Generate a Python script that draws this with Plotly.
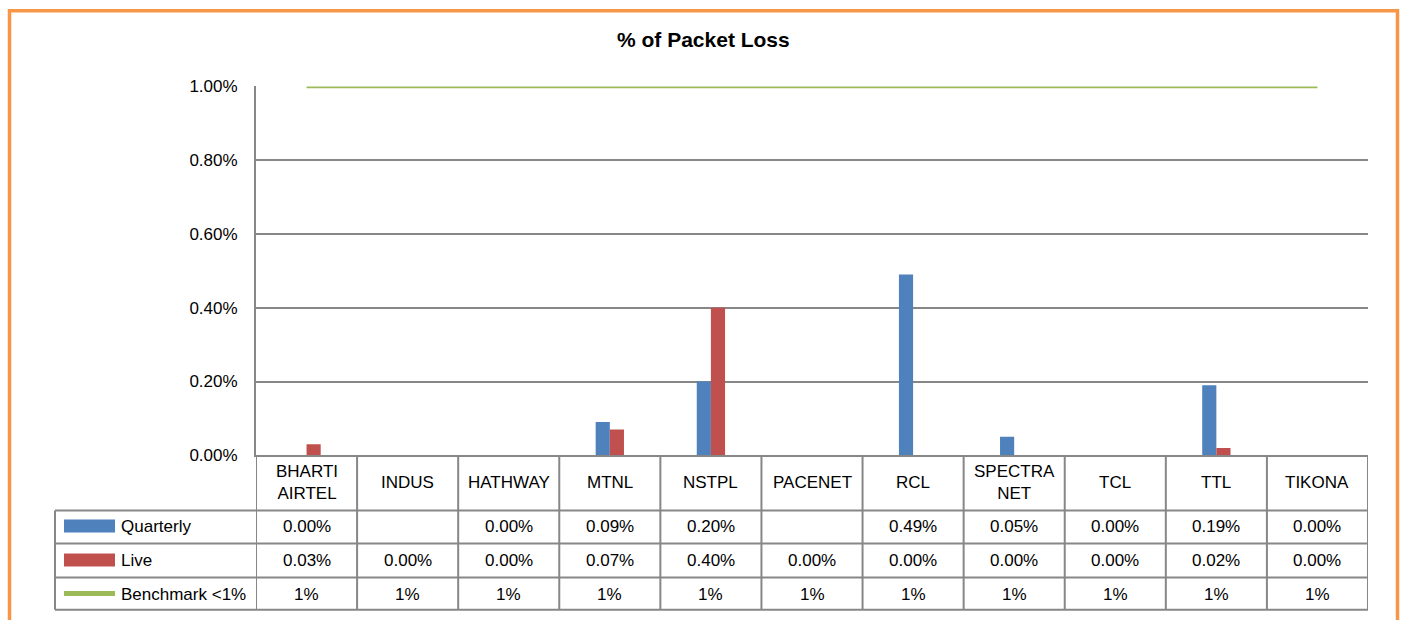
import plotly.graph_objects as go

# ---- data ----
categories = ["BHARTI<br>AIRTEL", "INDUS", "HATHWAY", "MTNL", "NSTPL", "PACENET",
              "RCL", "SPECTRA<br>NET", "TCL", "TTL", "TIKONA"]
quarterly = [0.00, None, 0.00, 0.09, 0.20, None, 0.49, 0.05, 0.00, 0.19, 0.00]  # in %
live = [0.03, 0.00, 0.00, 0.07, 0.40, 0.00, 0.00, 0.00, 0.00, 0.02, 0.00]        # in %
benchmark = [1, 1, 1, 1, 1, 1, 1, 1, 1, 1, 1]                                     # in %
series_names = ["Quarterly", "Live", "Benchmark <1%"]
y_ticks = [0, 0.2, 0.4, 0.6, 0.8, 1.0]
title = "% of Packet Loss"

W, H = 1402, 620
BLUE, RED, GREEN = "#4F81BD", "#C0504D", "#9BBB59"
GRID = "#878787"
FONT = "Liberation Sans Narrow, Arial Narrow, Liberation Sans, Arial, sans-serif"

# observed vertical placement of the figure in the photographed page
Y0, YS = 9.8, 0.967


def px(x):
    return x / W


def py(y):
    fy = (y - Y0) / YS
    fy = min(max(fy, 0.0), H)
    return 1 - fy / H


x_idx = list(range(len(categories)))

fig = go.Figure()
fig.add_trace(go.Bar(x=x_idx, y=[None if v is None else v / 100 for v in quarterly],
                     marker=dict(color=BLUE, line=dict(width=0)), name=series_names[0]))
fig.add_trace(go.Bar(x=x_idx, y=[v / 100 for v in live],
                     marker=dict(color=RED, line=dict(width=0)), name=series_names[1]))
fig.add_trace(go.Scatter(x=x_idx, y=[v / 100 for v in benchmark], mode="lines",
                         line=dict(color=GREEN, width=3.5), name=series_names[2]))

shapes = []
ann = []
# orange frame
shapes.append(dict(type="rect", xref="paper", yref="paper", x0=px(9.5), x1=px(1397.5),
                   y0=-0.05, y1=1 - 1.8 / H, line=dict(color="#F79646", width=3.5)))

L, LT, R = 55, 256, 1368
rows = [455, 510, 543, 577, 609]
line_style = dict(color=GRID, width=2)
for y in rows[1:]:
    shapes.append(dict(type="line", xref="paper", yref="paper", x0=px(L), x1=px(R),
                       y0=py(y), y1=py(y), line=line_style))
shapes.append(dict(type="line", xref="paper", yref="paper", x0=px(L), x1=px(L),
                   y0=py(510), y1=py(609), line=line_style))
for i in range(len(categories) + 1):
    shapes.append(dict(type="line", xref="x", yref="paper", x0=i - 0.5, x1=i - 0.5,
                       y0=py(455), y1=py(609), line=line_style))

# legend keys in the table
shapes.append(dict(type="rect", xref="paper", yref="paper", x0=px(64), x1=px(115),
                   y0=py(532), y1=py(519), fillcolor=BLUE, line=dict(width=0)))
shapes.append(dict(type="rect", xref="paper", yref="paper", x0=px(64), x1=px(115),
                   y0=py(566), y1=py(553), fillcolor=RED, line=dict(width=0)))
shapes.append(dict(type="line", xref="paper", yref="paper", x0=px(64), x1=px(115),
                   y0=py(593), y1=py(593), line=dict(color=GREEN, width=5)))

tf = dict(family=FONT, size=17, color="#000000")
for name, yc in zip(series_names, [526.5, 560, 593.5]):
    ann.append(dict(text=name, xref="paper", yref="paper", x=px(119), y=py(yc),
                    xanchor="left", yanchor="middle", showarrow=False, font=tf))

for i, c in enumerate(categories):
    ann.append(dict(text=c, xref="x", yref="paper", x=i, y=py(482.5), xanchor="center",
                    yanchor="middle", showarrow=False, font=tf))
    q = quarterly[i]
    if q is not None:
        ann.append(dict(text=f"{q:.2f}%", xref="x", yref="paper", x=i, y=py(526.5),
                        xanchor="center", yanchor="middle", showarrow=False, font=tf))
    ann.append(dict(text=f"{live[i]:.2f}%", xref="x", yref="paper", x=i, y=py(560),
                    xanchor="center", yanchor="middle", showarrow=False, font=tf))
    ann.append(dict(text=f"{benchmark[i]}%", xref="x", yref="paper", x=i, y=py(593.5),
                    xanchor="center", yanchor="middle", showarrow=False, font=tf))

ann.append(dict(text="<b>" + title + "</b>", xref="paper", yref="paper", x=px(703), y=py(40),
                xanchor="center", yanchor="middle", showarrow=False,
                font=dict(family=FONT, size=21, color="#000000")))

fig.update_layout(
    width=W, height=H, margin=dict(l=0, r=0, t=0, b=0),
    paper_bgcolor="white", plot_bgcolor="white",
    showlegend=False, barmode="group", bargap=0.72, bargroupgap=0,
    shapes=shapes, annotations=ann,
    xaxis=dict(domain=[px(LT), px(R)], range=[-0.5, len(categories) - 0.5],
               showticklabels=False, showgrid=False, zeroline=False,
               showline=True, linecolor=GRID, linewidth=2, ticks=""),
    yaxis=dict(domain=[py(455), py(87)], range=[0, 0.01],
               tickvals=[t / 100 for t in y_ticks], tickformat=".2%",
               showgrid=True, gridcolor=GRID, gridwidth=2, zeroline=False,
               showline=True, linecolor=GRID, linewidth=2, ticks="",
               ticklabelstandoff=13, tickfont=tf),
)

fig.write_html(
    "out.html",
    config={"displayModeBar": False},
    post_script=(
        "document.documentElement.style.margin='0';document.documentElement.style.padding='0';"
        "document.documentElement.style.overflow='hidden';"
        "document.body.style.margin='0';document.body.style.padding='0';"
        "document.body.style.overflow='hidden';"
    ),
)
